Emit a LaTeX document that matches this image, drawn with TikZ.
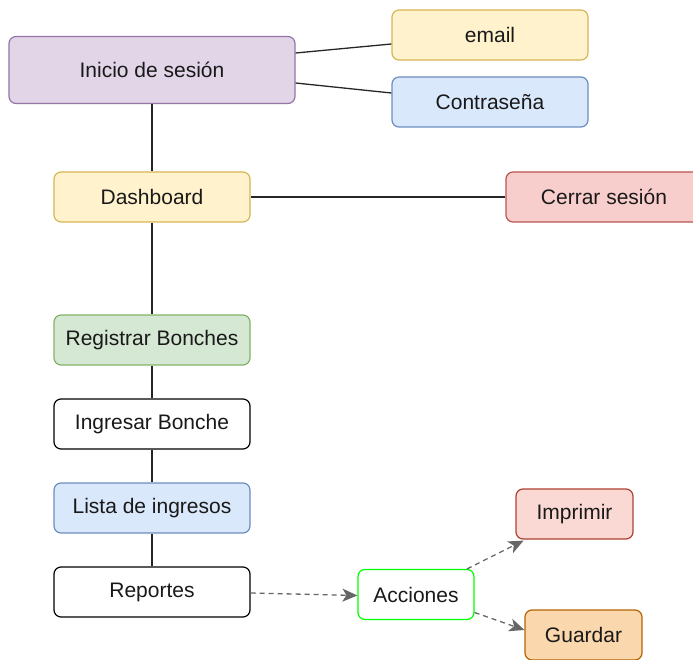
\documentclass[tikz,border=0pt]{standalone}
\usepackage{fontspec}
\setmainfont{Liberation Sans}
\usetikzlibrary{arrows.meta}
\definecolor{purpF}{HTML}{E1D5E7}\definecolor{purpS}{HTML}{9673A6}
\definecolor{yelF}{HTML}{FFF2CC}\definecolor{yelS}{HTML}{D6B656}
\definecolor{bluF}{HTML}{DAE8FC}\definecolor{bluS}{HTML}{6C8EBF}
\definecolor{redF}{HTML}{F8CECC}\definecolor{redS}{HTML}{B85450}
\definecolor{grnF}{HTML}{D5E8D4}\definecolor{grnS}{HTML}{82B366}
\definecolor{orgF}{HTML}{FAD7AC}\definecolor{orgS}{HTML}{B46504}
\definecolor{redF2}{HTML}{FAD9D5}\definecolor{redS2}{HTML}{AE4132}
\definecolor{edgeGray}{HTML}{666666}
\begin{document}
\begin{tikzpicture}[x=1pt,y=-1pt,
  box/.style={draw, rounded corners=7pt, line width=1.2pt, minimum width=196pt,
    minimum height=50pt, inner sep=0pt, font=\fontsize{21}{25}\selectfont, text=black!90},
  link/.style={line width=1.3pt, draw=black!85},
  dlink/.style={line width=1.3pt, draw=edgeGray, dashed, dash pattern=on 5pt off 4pt,
    -{Stealth[length=15pt,width=13pt,inset=4pt]}}]
\useasboundingbox (0,0) rectangle (693,660);
% login block
\node[box, fill=purpF, draw=purpS, minimum width=286pt, minimum height=67pt] (ini) at (152,70) {Inicio de sesión};
\node[box, fill=yelF, draw=yelS] (email) at (490,35) {email};
\node[box, fill=bluF, draw=bluS] (pass) at (490,102) {Contraseña};
% main column
\node[box, fill=yelF, draw=yelS] (dash) at (152,197) {Dashboard};
\node[box, fill=redF, draw=redS] (logout) at (604,197) {Cerrar sesión};
\node[box, fill=grnF, draw=grnS] (reg) at (152,340) {Registrar Bonches};
\node[box, fill=white, draw=black] (ing) at (152,424) {Ingresar Bonche};
\node[box, fill=bluF, draw=bluS] (lista) at (152,508) {Lista de ingresos};
\node[box, fill=white, draw=black] (rep) at (152,592) {Reportes};
% actions
\node[box, fill=white, draw=green, minimum width=116pt] (acc) at (416,594.5) {Acciones};
\node[box, fill=redF2, draw=redS2, minimum width=117pt] (imp) at (574.5,514) {Imprimir};
\node[box, fill=orgF, draw=orgS, minimum width=117pt] (guar) at (583.5,635) {Guardar};
% connectors
\draw[link] ([yshift=17pt]ini.east) -- ([yshift=-9pt]email.west);
\draw[link] ([yshift=-13pt]ini.east) -- ([yshift=9pt]pass.west);
\draw[link] (ini.south) -- (dash.north);
\draw[link] (dash.east) -- (logout.west);
\draw[link] (dash.south) -- (reg.north);
\draw[link] (reg.south) -- (ing.north);
\draw[link] (ing.south) -- (lista.north);
\draw[link] (lista.south) -- (rep.north);
\draw[dlink] ([yshift=-1pt]rep.east) -- ([yshift=-1pt]acc.west);
\draw[dlink] ([xshift=51pt]acc.north) -- ([xshift=-51pt,yshift=-1pt]imp.south);
\draw[dlink] ([yshift=-18pt]acc.east) -- ([yshift=5pt]guar.west);
\end{tikzpicture}
\end{document}
